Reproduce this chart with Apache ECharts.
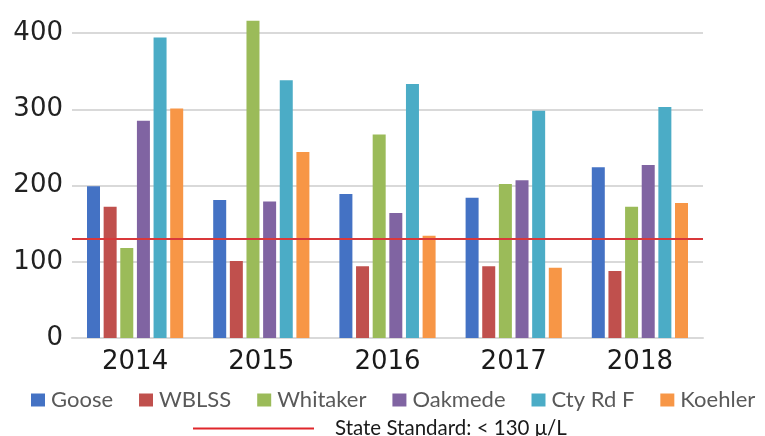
<!DOCTYPE html>
<html>
<head>
<meta charset="utf-8">
<script src="https://cdn.jsdelivr.net/npm/echarts@6/dist/echarts.min.js"></script>
<style>
  html, body { margin: 0; padding: 0; background: #ffffff; }
  #chart { width: 765px; height: 436px; }
</style>
</head>
<body>
<div id="chart"></div>
<script>
// Sampling years
const years = ['2014', '2015', '2016', '2017', '2018'];

// Measured values per site (μ/L)
const goose    = [199, 181, 189, 184, 224];
const wblss    = [172, 101, 94, 94, 88];
const whitaker = [118, 416, 267, 202, 172];
const oakmede  = [285, 179, 164, 207, 227];
const ctyRdF   = [394, 338, 333, 298, 303];
const koehler  = [301, 244, 134, 92, 177];

// Regulatory limit
const standardName = 'State Standard: < 130 μ/L';
const standardValue = 130;

const yTicks = { min: 0, max: 400, interval: 100 };

const sites = [
  { name: 'Goose',    values: goose,    color: '#4472c4' },
  { name: 'WBLSS',    values: wblss,    color: '#c0504d' },
  { name: 'Whitaker', values: whitaker, color: '#9bbb59' },
  { name: 'Oakmede',  values: oakmede,  color: '#8064a2' },
  { name: 'Cty Rd F', values: ctyRdF,   color: '#4bacc6' },
  { name: 'Koehler',  values: koehler,  color: '#f79646' }
];

const chart = echarts.init(document.getElementById('chart'), null, { renderer: 'canvas' });

const barSeries = sites.map(s => ({
  name: s.name,
  type: 'bar',
  data: s.values,
  barWidth: 13,
  barGap: '28%',
  clip: false,
  itemStyle: { color: s.color },
  emphasis: { disabled: true }
}));

const standardSeries = {
  name: standardName,
  type: 'line',
  data: [],
  color: '#e0262b',
  markLine: {
    silent: true,
    symbol: 'none',
    label: { show: false },
    lineStyle: { color: '#d9383a', width: 2, type: 'solid' },
    data: [{ yAxis: standardValue }]
  }
};

chart.setOption({
  animation: false,
  backgroundColor: '#ffffff',
  grid: { left: 72, right: 62, top: 33, bottom: 98, containLabel: false },
  legend: [
    {
      data: sites.map(s => s.name),
      left: 31,
      top: 389,
      width: 734,
      itemWidth: 14,
      itemHeight: 13,
      itemGap: 26,
      icon: 'rect',
      padding: 0,
      textStyle: { fontFamily: 'Lato', fontSize: 22, color: '#595959', padding: [0, 0, 0, 1] }
    },
    {
      data: [{ name: standardName, icon: 'rect' }],
      left: 193,
      top: 418,
      itemWidth: 121,
      itemHeight: 2,
      padding: 0,
      textStyle: { fontFamily: 'Lato', fontSize: 20.5, color: '#1a1a1a', padding: [0, 0, 0, 16] }
    }
  ],
  xAxis: {
    type: 'category',
    data: years,
    axisTick: { show: false },
    axisLine: { show: true, lineStyle: { color: '#d9d9d9', width: 2 } },
    axisLabel: { fontFamily: 'DejaVu Sans', fontSize: 26, color: '#1a1a1a', margin: 11 }
  },
  yAxis: {
    type: 'value',
    min: yTicks.min,
    max: yTicks.max,
    interval: yTicks.interval,
    axisLine: { show: false },
    axisTick: { show: false },
    splitLine: { lineStyle: { color: '#d9d9d9', width: 2 } },
    axisLabel: { fontFamily: 'DejaVu Sans', fontSize: 26, color: '#222222', margin: 9 }
  },
  series: [...barSeries, standardSeries]
});
</script>
</body>
</html>
